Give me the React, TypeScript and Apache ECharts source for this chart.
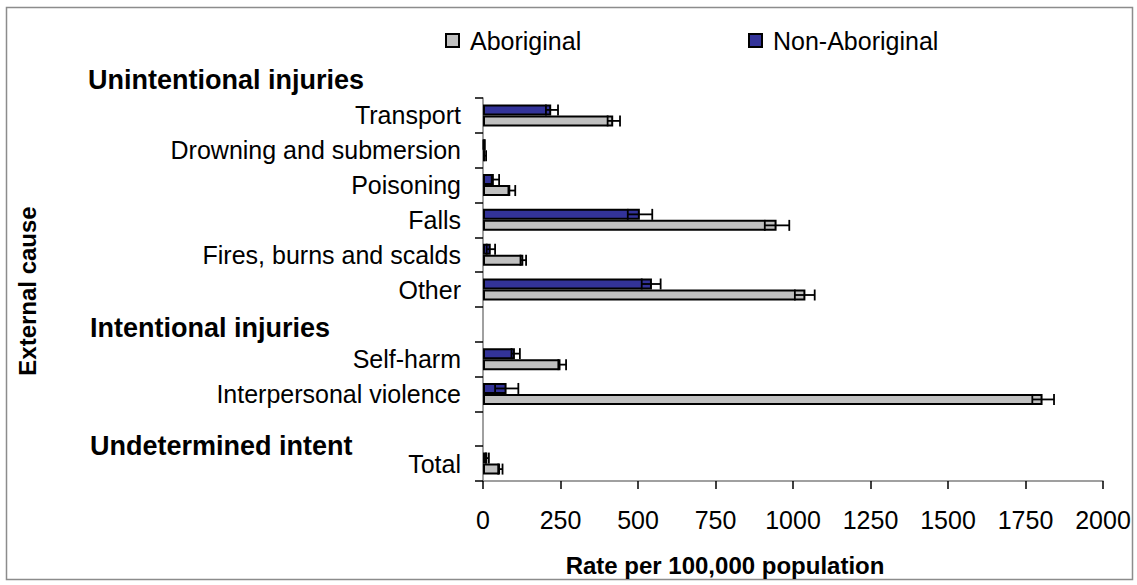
import React, { useEffect, useRef } from 'react';
import * as echarts from 'echarts';

const FONT = '"Liberation Sans", Arial, sans-serif';

// Categories (top to bottom); blank entries are spacer rows for group headers
const categories = [
  'Transport',
  'Drowning and submersion',
  'Poisoning',
  'Falls',
  'Fires, burns and scalds',
  'Other',
  ' ',
  'Self-harm',
  'Interpersonal violence',
  '  ',
  'Total',
];

const groupHeaders = ['Unintentional injuries', 'Intentional injuries', 'Undetermined intent'];
const seriesNames = ['Aboriginal', 'Non-Aboriginal'];

// Rates per 100,000 population
const aboriginal = [420, 7, 88, 947, 130, 1040, null, 250, 1805, null, 55];
const aboriginalLow = [402, 4, 82, 909, 121, 1006, null, 243, 1772, null, 49];
const aboriginalHigh = [442, 10, 104, 988, 139, 1070, null, 268, 1842, null, 63];

const nonAboriginal = [220, 4, 35, 506, 25, 545, null, 103, 76, null, 14];
const nonAboriginalLow = [203, 2, 28, 467, 12, 512, null, 92, 39, null, 9];
const nonAboriginalHigh = [242, 6, 52, 546, 39, 573, null, 119, 114, null, 19];

const xMin = 0;
const xMax = 2000;
const xInterval = 250;

const BAR_W = 11;

function errorData(low: (number | null)[], high: (number | null)[]) {
  const out: number[][] = [];
  low.forEach((l, i) => {
    const h = high[i];
    if (l != null && h != null) out.push([l, h, i]);
  });
  return out;
}

function makeErrorRenderer(offset: number) {
  return (params: any, api: any) => {
    const cat = api.value(2);
    const p1 = api.coord([api.value(0), cat]);
    const p2 = api.coord([api.value(1), cat]);
    const y = p1[1] + offset;
    const half = BAR_W / 2;
    const style = { stroke: '#000', lineWidth: 1.8, fill: null };
    return {
      type: 'group',
      children: [
        { type: 'line', shape: { x1: p1[0], y1: y, x2: p2[0], y2: y }, style },
        { type: 'line', shape: { x1: p1[0], y1: y - half, x2: p1[0], y2: y + half }, style },
        { type: 'line', shape: { x1: p2[0], y1: y - half, x2: p2[0], y2: y + half }, style },
      ],
    };
  };
}

export default function App() {
  const ref = useRef<HTMLDivElement>(null);

  useEffect(() => {
    if (!ref.current) return;
    const chart = echarts.init(ref.current, null, { renderer: 'svg' });

    const legendCommon = {
      top: 28,
      padding: 0,
      itemWidth: 13,
      itemHeight: 13,
      icon: 'rect',
      selectedMode: false,
      textStyle: { fontSize: 25, fontFamily: FONT, color: '#000', padding: [0, 0, 0, 6] },
    };

    const option: any = {
      animation: false,
      backgroundColor: '#fff',
      textStyle: { fontFamily: FONT },
      legend: [
        { ...legendCommon, left: 445, data: [seriesNames[0]] },
        { ...legendCommon, left: 748, data: [seriesNames[1]] },
      ],
      grid: { left: 483, right: 34, top: 98, bottom: 104, containLabel: false },
      xAxis: {
        type: 'value',
        min: xMin,
        max: xMax,
        interval: xInterval,
        axisLine: { show: true, lineStyle: { color: '#808080', width: 1.5 } },
        axisTick: { show: true, length: 8, lineStyle: { color: '#000', width: 1.5 } },
        splitLine: { show: false },
        axisLabel: {
          fontSize: 25,
          fontFamily: FONT,
          color: '#000',
          margin: 26,
          formatter: (v: number) => String(v),
        },
      },
      yAxis: {
        type: 'category',
        inverse: true,
        data: categories,
        axisLine: { show: true, lineStyle: { color: '#808080', width: 1.5 } },
        axisTick: { show: true, length: 8, lineStyle: { color: '#000', width: 1.5 } },
        axisLabel: { fontSize: 25, fontFamily: FONT, color: '#000', margin: 22, interval: 0 },
      },
      series: [
        {
          name: seriesNames[1],
          type: 'bar',
          data: nonAboriginal,
          barWidth: BAR_W,
          barGap: '0%',
          itemStyle: { color: '#333399', borderColor: '#000', borderWidth: 2 },
        },
        {
          name: seriesNames[0],
          type: 'bar',
          data: aboriginal,
          barWidth: BAR_W,
          barGap: '0%',
          itemStyle: { color: '#C0C0C0', borderColor: '#000', borderWidth: 2 },
        },
        {
          name: 'Non-Aboriginal CI',
          type: 'custom',
          data: errorData(nonAboriginalLow, nonAboriginalHigh),
          encode: { x: [0, 1], y: 2 },
          renderItem: makeErrorRenderer(-BAR_W / 2),
          z: 5,
          silent: true,
        },
        {
          name: 'Aboriginal CI',
          type: 'custom',
          data: errorData(aboriginalLow, aboriginalHigh),
          encode: { x: [0, 1], y: 2 },
          renderItem: makeErrorRenderer(BAR_W / 2),
          z: 5,
          silent: true,
        },
      ],
      graphic: [
        {
          type: 'rect',
          shape: { x: 6.5, y: 7.5, width: 1126, height: 572 },
          style: { fill: null, stroke: '#8c8c8c', lineWidth: 1.5 },
          silent: true,
        },
        {
          type: 'text',
          x: 88,
          y: 80,
          style: { text: groupHeaders[0], font: `bold 27px ${FONT}`, fill: '#000', verticalAlign: 'middle' },
        },
        {
          type: 'text',
          x: 90,
          y: 328,
          style: { text: groupHeaders[1], font: `bold 27px ${FONT}`, fill: '#000', verticalAlign: 'middle' },
        },
        {
          type: 'text',
          x: 90,
          y: 446,
          style: { text: groupHeaders[2], font: `bold 27px ${FONT}`, fill: '#000', verticalAlign: 'middle' },
        },
        {
          type: 'text',
          x: 725,
          y: 565,
          style: {
            text: 'Rate per 100,000 population',
            font: `bold 24px ${FONT}`,
            fill: '#000',
            align: 'center',
            verticalAlign: 'middle',
          },
        },
        {
          type: 'text',
          x: 27,
          y: 291,
          rotation: Math.PI / 2,
          style: {
            text: 'External cause',
            font: `bold 24px ${FONT}`,
            fill: '#000',
            align: 'center',
            verticalAlign: 'middle',
          },
        },
      ],
    };

    chart.setOption(option);
    return () => chart.dispose();
  }, []);

  return (
    <div
      ref={ref}
      style={{ position: 'absolute', left: 0, top: 0, width: 1137, height: 585 }}
    />
  );
}
